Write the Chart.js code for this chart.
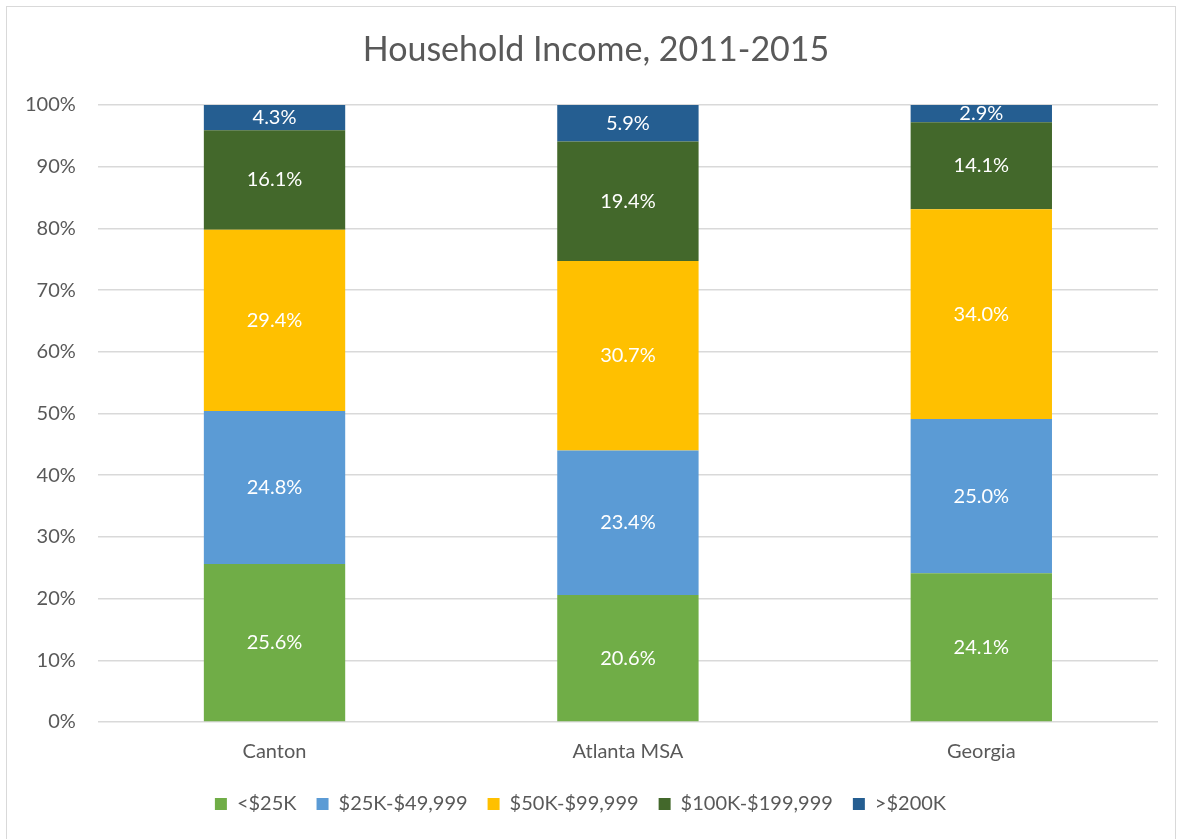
<!DOCTYPE html>
<html>
<head>
<meta charset="utf-8">
<script src="https://cdn.jsdelivr.net/npm/chart.js@4/dist/chart.umd.min.js"></script>
<style>
  html, body { margin: 0; padding: 0; background: #fff; }
  #frame {
    position: absolute; left: 6px; top: 6px; width: 1170px; height: 840px;
    border: 1px solid #d9d9d9; box-sizing: border-box;
  }
  #wrap { position: absolute; left: 0; top: 0; width: 1182px; height: 839px; }
  #title {
    position: absolute; left: 0; top: 27px; width: 1192px; text-align: center;
    font: 34px Lato, 'Open Sans', sans-serif; color: #595959; line-height: 41px;
  }
</style>
</head>
<body>
<div id="frame"></div>
<div id="wrap"><canvas id="chart"></canvas></div>
<div id="title">Household Income, 2011-2015</div>
<script>
const places = ["Canton", "Atlanta MSA", "Georgia"];
const under25k = [25.6, 20.6, 24.1];
const from25kTo50k = [24.8, 23.4, 25.0];
const from50kTo100k = [29.4, 30.7, 34.0];
const from100kTo200k = [16.1, 19.4, 14.1];
const over200k = [4.3, 5.9, 2.9];
const yTicks = [0, 10, 20, 30, 40, 50, 60, 70, 80, 90, 100];

const fontFamily = "Lato, 'Open Sans', sans-serif";
const grey = "#595959";

// draws the value in the middle of each bar segment
const segmentLabels = {
  id: "segmentLabels",
  afterDatasetsDraw(chart) {
    const ctx = chart.ctx;
    ctx.save();
    ctx.fillStyle = "#ffffff";
    ctx.font = "20px " + fontFamily;
    ctx.textAlign = "center";
    ctx.textBaseline = "middle";
    chart.data.datasets.forEach((ds, i) => {
      const meta = chart.getDatasetMeta(i);
      meta.data.forEach((bar, j) => {
        const top = Math.max(bar.y, chart.chartArea.top);
        const mid = (top + bar.base) / 2;
        ctx.fillText(ds.data[j].toFixed(1) + "%", bar.x, mid);
      });
    });
    ctx.restore();
  }
};

function series(label, data, color) {
  return { label, data, backgroundColor: color, borderWidth: 0,
           categoryPercentage: 1, barPercentage: 0.4 };
}

new Chart(document.getElementById("chart"), {
  type: "bar",
  data: {
    labels: places,
    datasets: [
      series("<$25K", under25k, "#70ad47"),
      series("$25K-$49,999", from25kTo50k, "#5b9bd5"),
      series("$50K-$99,999", from50kTo100k, "#ffc000"),
      series("$100K-$199,999", from100kTo200k, "#43682b"),
      series(">$200K", over200k, "#255e91")
    ]
  },
  options: {
    responsive: true,
    maintainAspectRatio: false,
    animation: false,
    layout: { padding: { left: 3, right: 24, top: 105, bottom: 15 } },
    plugins: {
      title: { display: false },
      legend: {
        position: "bottom",
        labels: {
          color: grey,
          font: { family: fontFamily, size: 20 },
          boxWidth: 12, boxHeight: 12, padding: 20
        }
      },
      tooltip: { enabled: false }
    },
    scales: {
      x: {
        stacked: true,
        grid: { display: false },
        border: { display: false },
        ticks: { color: grey, font: { family: fontFamily, size: 20 }, padding: 10 }
      },
      y: {
        stacked: true,
        min: 0, max: 100,
        afterBuildTicks: axis => { axis.ticks = yTicks.map(v => ({ value: v })); },
        grid: { color: "#d9d9d9", lineWidth: 1.5, drawTicks: false },
        border: { display: false },
        ticks: { color: grey, font: { family: fontFamily, size: 20 }, padding: 22,
                 callback: v => v + "%" }
      }
    }
  },
  plugins: [segmentLabels]
});
</script>
</body>
</html>
